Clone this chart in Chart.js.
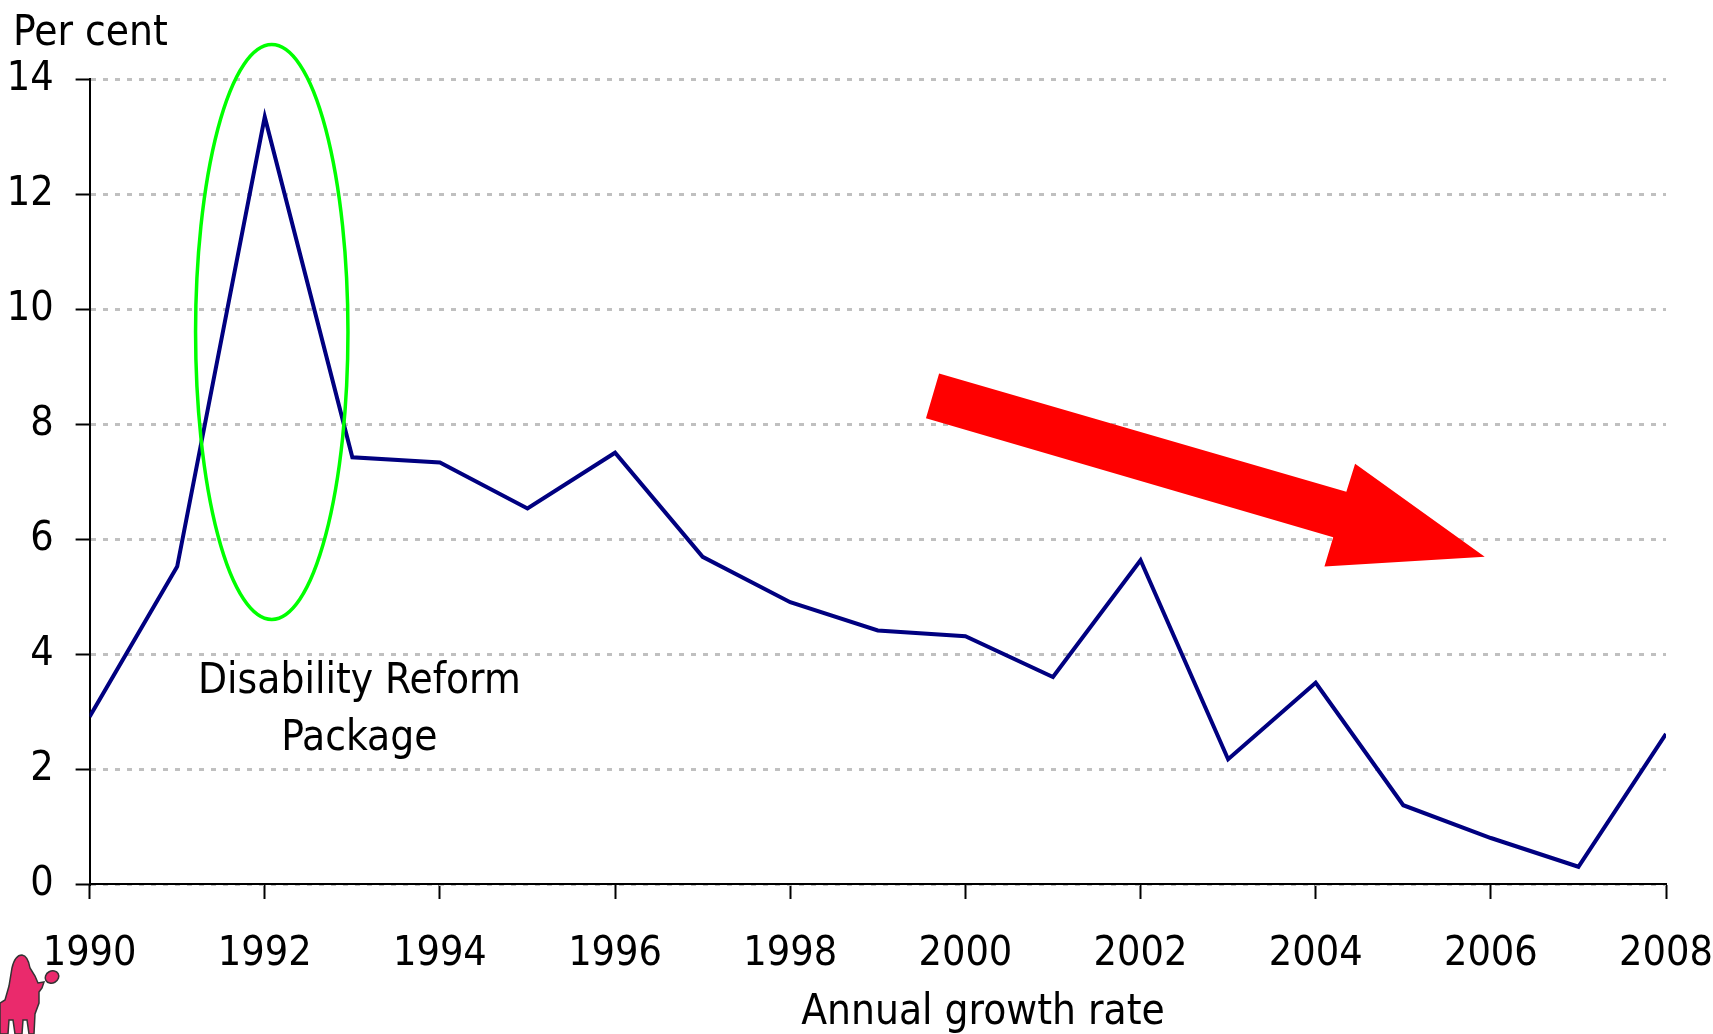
<!DOCTYPE html>
<html>
<head>
<meta charset="utf-8">
<script src="https://cdn.jsdelivr.net/npm/chart.js@4"></script>
<style>
  html, body { margin: 0; padding: 0; background: #fff; }
  #wrap { width: 1713px; height: 1034px; }
</style>
</head>
<body>
<div id="wrap"><canvas id="chart"></canvas></div>
<script>
// annual growth rate, per cent
var years = [1990, 1991, 1992, 1993, 1994, 1995, 1996, 1997, 1998, 1999,
             2000, 2001, 2002, 2003, 2004, 2005, 2006, 2007, 2008];
var growth = [2.91, 5.52, 13.34, 7.42, 7.33, 6.53, 7.50, 5.69, 4.90, 4.41,
              4.31, 3.60, 5.63, 2.17, 3.50, 1.37, 0.80, 0.30, 2.61];

var yTicks = [0, 2, 4, 6, 8, 10, 12, 14];
var xTickStep = 2;

var noteLines = ['Disability Reform', 'Package'];
var noteAt = [1993.08, 3.6];          // year, per cent of first line
var ringAt = [1992.08, 9.6, 0.87, 5.0]; // centre x, centre y, radius x, radius y
// arrow outline in data units
var arrowX = [1999.70, 2004.35, 2004.45, 2005.93, 2004.10, 2004.20, 1999.55];
var arrowY = [8.88, 6.82, 7.31, 5.69, 5.52, 6.03, 8.10];

var FONT = "'Liberation Sans Narrow', 'DejaVu Sans Condensed', 'Arial Narrow', sans-serif";

var extras = {
    id: 'extras',
    afterDatasetsDraw: function(chart) {
        var ctx = chart.ctx;
        var xs = chart.scales.x, ys = chart.scales.y;

        // green ring round the 1992 peak
        ctx.save();
        ctx.strokeStyle = '#00ff00';
        ctx.lineWidth = 3.5;
        ctx.beginPath();
        var cx = xs.getPixelForValue(ringAt[0]);
        var cy = ys.getPixelForValue(ringAt[1]);
        var rx = xs.getPixelForValue(ringAt[0] + ringAt[2]) - cx;
        var ry = cy - ys.getPixelForValue(ringAt[1] + ringAt[3]);
        ctx.ellipse(cx, cy, rx, ry, 0, 0, Math.PI * 2);
        ctx.stroke();
        ctx.restore();

        // red arrow
        ctx.save();
        ctx.fillStyle = '#ff0000';
        ctx.beginPath();
        for (var i = 0; i < arrowX.length; i++) {
            var px = xs.getPixelForValue(arrowX[i]);
            var py = ys.getPixelForValue(arrowY[i]);
            if (i == 0) ctx.moveTo(px, py); else ctx.lineTo(px, py);
        }
        ctx.closePath();
        ctx.fill();
        ctx.restore();

        // note text
        ctx.save();
        ctx.fillStyle = '#000';
        ctx.font = '42px ' + FONT;
        ctx.textAlign = 'center';
        ctx.textBaseline = 'alphabetic';
        var nx = xs.getPixelForValue(noteAt[0]);
        var ny = ys.getPixelForValue(noteAt[1]) + 16;
        noteLines.forEach(function(t, k) {
            ctx.fillText(t, nx, ny + k * 57);
        });
        ctx.restore();
    },
    afterDraw: function(chart) {
        var ctx = chart.ctx;
        ctx.save();
        ctx.fillStyle = '#000';
        ctx.textBaseline = 'alphabetic';
        ctx.textAlign = 'left';
        ctx.font = '42px ' + FONT;
        ctx.fillText('Per cent', 13, 45);
        ctx.textAlign = 'center';
        ctx.font = '42px ' + FONT;
        ctx.fillText('Annual growth rate', 983, 1024);

        // little pink camel logo in the corner
        ctx.fillStyle = '#ea2a6c';
        ctx.strokeStyle = '#333';
        ctx.lineWidth = 1.5;
        ctx.beginPath();
        ctx.moveTo(0, 1003);
        ctx.lineTo(5, 1000);
        ctx.lineTo(9, 986);
        ctx.lineTo(12, 968);
        ctx.quadraticCurveTo(15, 955, 22, 955);
        ctx.quadraticCurveTo(28, 956, 30, 968);
        ctx.lineTo(35, 976);
        ctx.lineTo(38, 983);
        ctx.lineTo(44, 982);
        ctx.lineTo(42, 988);
        ctx.lineTo(39, 992);
        ctx.lineTo(39, 1003);
        ctx.lineTo(35, 1014);
        ctx.lineTo(34, 1034);
        ctx.lineTo(29, 1034);
        ctx.lineTo(27, 1020);
        ctx.lineTo(23, 1020);
        ctx.lineTo(22, 1034);
        ctx.lineTo(15, 1034);
        ctx.lineTo(13, 1020);
        ctx.lineTo(9, 1020);
        ctx.lineTo(8, 1034);
        ctx.lineTo(0, 1034);
        ctx.closePath();
        ctx.fill();
        ctx.stroke();
        ctx.beginPath();
        ctx.ellipse(52, 977, 7, 6, -0.5, 0, Math.PI * 2);
        ctx.fill();
        ctx.stroke();
        ctx.restore();
    }
};

window.onload = function() {
    var ctx = document.getElementById('chart');
    new Chart(ctx, {
        type: 'line',
        data: {
            datasets: [{
                label: 'Annual growth rate',
                data: years.map(function(y, i) { return { x: y, y: growth[i] }; }),
                borderColor: '#000080',
                borderWidth: 4,
                pointRadius: 0,
                tension: 0,
                fill: false
            }]
        },
        options: {
            responsive: true,
            maintainAspectRatio: false,
            animation: false,
            layout: { padding: { top: 79, right: 47, bottom: 0, left: 0 } },
            plugins: {
                legend: { display: false },
                tooltip: { enabled: false }
            },
            scales: {
                x: {
                    type: 'linear',
                    min: years[0],
                    max: years[years.length - 1],
                    afterFit: function(s) {
                        s.height = 150;
                        s.paddingLeft = 0;
                        s.paddingRight = 0;
                    },
                    ticks: {
                        stepSize: xTickStep,
                        maxRotation: 0,
                        padding: 31,
                        color: '#000',
                        font: { family: FONT, size: 41 },
                        callback: function(v) { return String(v); }
                    },
                    grid: {
                        drawOnChartArea: false,
                        drawTicks: true,
                        tickLength: 15,
                        tickColor: '#000',
                        tickWidth: 2
                    },
                    border: { display: true, color: '#000', width: 2 }
                },
                y: {
                    min: 0,
                    max: 14,
                    afterFit: function(s) {
                        s.width = 89.6;
                        s.paddingTop = 0;
                        s.paddingBottom = 0;
                    },
                    afterBuildTicks: function(s) {
                        s.ticks = yTicks.map(function(v) { return { value: v }; });
                    },
                    ticks: {
                        padding: 22,
                        color: '#000',
                        font: { family: FONT, size: 41 }
                    },
                    grid: {
                        color: '#c0c0c0',
                        lineWidth: 3,
                        drawTicks: true,
                        tickLength: 14,
                        tickColor: '#000',
                        tickWidth: 2,
                        tickBorderDash: []
                    },
                    border: { display: true, color: '#000', width: 2, dash: [5, 7] }
                }
            }
        },
        plugins: [extras]
    });
};
</script>
</body>
</html>
